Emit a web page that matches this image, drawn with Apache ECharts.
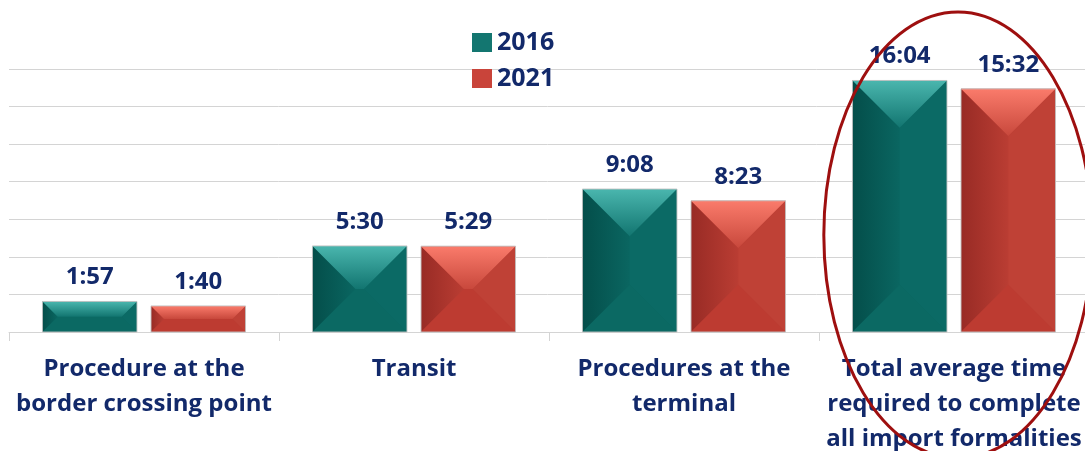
<!DOCTYPE html>
<html>
<head>
<meta charset="utf-8">
<script src="https://cdn.jsdelivr.net/npm/echarts@6/dist/echarts.min.js"></script>
<style>
html,body{margin:0;padding:0;background:#fff;}
#c{width:1085px;height:451px;}
</style>
</head>
<body>
<div id="c"></div>
<script>
// ---- data ----
var categories = [
  'Procedure at the\nborder crossing point',
  'Transit',
  'Procedures at the\nterminal',
  'Total average time\nrequired to complete\nall import formalities'
];
var seriesNames = ['2016', '2021'];
var times2016 = ['1:57', '5:30', '9:08', '16:04'];
var times2021 = ['1:40', '5:29', '8:23', '15:32'];
var axisMaxTime = '16:48';   // top gridline (0.7 day)
var axisStepTime = '2:24';   // gridline step (0.1 day)

function toHours(s){ var p = s.split(':'); return (+p[0]) + (+p[1]) / 60; }

var NAVY = '#12296a';
var FONT = '"Open Sans", sans-serif';

var palettes = [
  { body:'#0a6661', topA:'#4ab6ae', topB:'#127570', left:'#044e4a', right:'#0b6a65', bottom:'#0b6963', legend:'#137670' },
  { body:'#ba3d33', topA:'#fa7b6b', topB:'#c8483c', left:'#982b25', right:'#bf4136', bottom:'#bd3b31', legend:'#c9443a' }
];

function makeRender(sIdx, times){
  var pal = palettes[sIdx];
  return function(params, api){
    var ci = api.value(0), v = api.value(1);
    var base = api.coord([ci, 0]);
    var top = api.coord([ci, v]);
    var band = api.size([1, 0])[0];
    var w = band * 0.35, gap = band * 0.052;
    var cx = base[0] + (sIdx === 0 ? -(gap/2 + w/2) : (gap/2 + w/2));
    var x = cx - w/2, y = top[1], h = base[1] - top[1];
    var d = Math.min(w/2, h/2);
    var TL=[x,y], TR=[x+w,y], BR=[x+w,y+h], BL=[x,y+h];
    var iTL=[x+d,y+d], iTR=[x+w-d,y+d], iBR=[x+w-d,y+h-d], iBL=[x+d,y+h-d];
    var ch = [];
    ch.push({type:'rect', shape:{x:x,y:y,width:w,height:h}, style:{fill:pal.body}});
    ch.push({type:'polygon', shape:{points:[TL,iTL,iBL,BL]}, style:{fill:{type:'linear',x:0,y:0,x2:1,y2:0,colorStops:[{offset:0,color:pal.left},{offset:1,color:pal.body}]}}});
    ch.push({type:'polygon', shape:{points:[TR,BR,iBR,iTR]}, style:{fill:pal.right}});
    ch.push({type:'polygon', shape:{points:[BL,iBL,iBR,BR]}, style:{fill:pal.bottom}});
    ch.push({type:'polygon', shape:{points:[TL,TR,iTR,iTL]}, style:{fill:{type:'linear',x:0,y:0,x2:0,y2:1,colorStops:[{offset:0,color:pal.topA},{offset:1,color:pal.topB}]}}});
    ch.push({type:'rect', shape:{x:x,y:y,width:w,height:h}, style:{fill:'none', stroke:'rgba(195,195,195,0.9)', lineWidth:1}});
    ch.push({type:'text', x:cx, y:y - 12, style:{text:times[params.dataIndex], fill:NAVY, font:'bold 24px ' + FONT, textAlign:'center', textVerticalAlign:'bottom'}});
    return {type:'group', children:ch};
  };
}

var d2016 = times2016.map(function(t,i){ return [i, toHours(t)]; });
var d2021 = times2021.map(function(t,i){ return [i, toHours(t)]; });

var chart = echarts.init(document.getElementById('c'), null, {renderer:'canvas'});
chart.setOption({
  animation:false,
  backgroundColor:'#fff',
  grid:{left:9, top:69, width:1080, height:263, containLabel:false, outerBoundsMode:'none'},
  legend:{
    orient:'vertical', left:467, top:25, itemWidth:20, itemHeight:19, itemGap:11,
    icon:'rect',
    textStyle:{color:NAVY, fontFamily:FONT, fontWeight:'bold', fontSize:25, padding:[0,0,0,0]},
    data:[
      {name:seriesNames[0], itemStyle:{color:palettes[0].legend}},
      {name:seriesNames[1], itemStyle:{color:palettes[1].legend}}
    ]
  },
  xAxis:{
    type:'category', data:categories, boundaryGap:true,
    axisLine:{show:true, lineStyle:{color:'#d4d4d4', width:1}},
    axisTick:{show:true, alignWithLabel:false, interval:0, length:9, lineStyle:{color:'#d4d4d4'}},
    axisLabel:{interval:0, margin:20, color:NAVY, fontFamily:FONT, fontWeight:'bold', fontSize:24, lineHeight:35, align:'center'},
    splitLine:{show:false}
  },
  yAxis:{
    type:'value', min:0, max:toHours(axisMaxTime), interval:toHours(axisStepTime),
    axisLabel:{show:false}, axisLine:{show:false}, axisTick:{show:false},
    splitLine:{show:true, lineStyle:{color:'#d4d4d4', width:1}}
  },
  series:[
    {name:seriesNames[0], type:'custom', renderItem:makeRender(0, times2016), encode:{x:0,y:1}, data:d2016, itemStyle:{color:palettes[0].legend}},
    {name:seriesNames[1], type:'custom', renderItem:makeRender(1, times2021), encode:{x:0,y:1}, data:d2021, itemStyle:{color:palettes[1].legend}}
  ]
});

// annotation ellipse around the last category
var lastX = chart.convertToPixel({xAxisIndex:0}, categories.length - 1);
var bandW = chart.convertToPixel({xAxisIndex:0}, 1) - chart.convertToPixel({xAxisIndex:0}, 0);
chart.setOption({
  graphic:[{
    type:'ellipse', silent:true, z:100,
    shape:{cx:lastX + 4, cy:235, rx:bandW * 0.497, ry:223},
    style:{fill:'none', stroke:'#9e0f0f', lineWidth:3}
  }]
});
</script>
</body>
</html>
